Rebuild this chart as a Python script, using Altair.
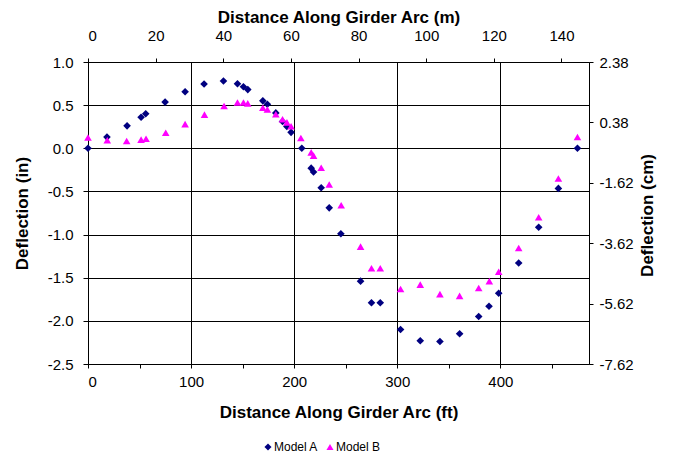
import altair as alt
import pandas as pd

# ---- data ----
a_x = [0, 18.4, 37.9, 51.5, 56, 74.8, 94.2, 112.6, 131.4, 145, 150.8, 155, 169.6, 174,
       182.2, 188.7, 192.9, 197, 207.4, 216.5, 218.8, 226.2, 234, 245.3, 264.4, 275,
       283.5, 303.2, 322.3, 341.4, 360.5, 379, 389, 398.4, 417.8, 437.2, 456.3, 474.8]
a_y = [0, 0.13, 0.26, 0.36, 0.40, 0.535, 0.655, 0.745, 0.78, 0.748, 0.713, 0.68, 0.55, 0.51,
       0.41, 0.31, 0.252, 0.185, 0.0, -0.23, -0.275, -0.457, -0.69, -0.99, -1.54, -1.79,
       -1.79, -2.10, -2.23, -2.24, -2.15, -1.95, -1.83, -1.68, -1.33, -0.915, -0.465, 0.0]
b_x = [0, 18.7, 37.5, 51.5, 56.3, 75.4, 94.2, 113, 132, 145, 150.8, 155, 169.6, 174,
       182.2, 188.7, 193, 197, 206.5, 216.5, 218.8, 226.2, 234, 245.6, 264.4, 275,
       283.5, 303.2, 322.3, 341.4, 360.5, 379, 389.3, 398.4, 417.8, 437.2, 456.3, 474.8]
b_y = [0.125, 0.093, 0.085, 0.10, 0.11, 0.18, 0.28, 0.39, 0.49, 0.53, 0.53, 0.52, 0.47, 0.45,
       0.395, 0.337, 0.30, 0.256, 0.12, -0.047, -0.085, -0.225, -0.42, -0.66, -1.14, -1.39,
       -1.39, -1.63, -1.58, -1.69, -1.71, -1.62, -1.54, -1.43, -1.155, -0.80, -0.35, 0.13]

series = ["Model A", "Model B"]
colors = ["#000080", "#FF00FF"]
shapes = ["diamond", "triangle-up"]

ft_max = 486.0
m_max = ft_max * 0.3048
in_domain = [-2.5, 1.0]
cm_domain = [-7.62, 2.38]
ft_ticks = [0, 50, 100, 150, 200, 250, 300, 350, 400, 450]
m_ticks = [0, 20, 40, 60, 80, 100, 120, 140]
in_ticks = [-2.5, -2.0, -1.5, -1.0, -0.5, 0.0, 0.5, 1.0]
cm_ticks = [2.38, 0.38, -1.62, -3.62, -5.62, -7.62]

df = pd.DataFrame({
    "x": a_x + b_x,
    "y": a_y + b_y,
    "series": [series[0]] * len(a_x) + [series[1]] * len(b_x),
})

FONT = "Liberation Sans"
W, H = 501, 302

axis_common = dict(
    labelFont=FONT, titleFont=FONT, labelFontSize=15, titleFontSize=17,
    titleFontWeight="bold", labelColor="black", titleColor="black",
    domainColor="black", tickColor="black", domainWidth=1, tickWidth=1,
)

points = alt.Chart(df).mark_point(filled=True, size=58, opacity=1).encode(
    x=alt.X("x:Q", scale=alt.Scale(domain=[0, ft_max], nice=False, zero=False),
            axis=alt.Axis(orient="bottom", values=ft_ticks,
                          title="Distance Along Girder Arc (ft)",
                          labelExpr="datum.value % 100 === 0 ? datum.label : ''",
                          grid=True, gridColor="black", gridWidth=1,
                          gridOpacity={"condition": {"test": "datum.value % 100 === 0", "value": 1}, "value": 0},
                          tickSize=4, labelPadding=6,
                          titleX=W / 2, titleY=53, titleBaseline="alphabetic",
                          **axis_common)),
    y=alt.Y("y:Q", scale=alt.Scale(domain=in_domain, nice=False, zero=False),
            axis=alt.Axis(orient="left", values=in_ticks, title="Deflection (in)",
                          labelExpr="(datum.value < 0 ? '-' : '') + format(abs(datum.value), '.1f')",
                          grid=True, gridColor="black", gridWidth=1,
                          tickSize=5, labelPadding=10,
                          titleX=-61, titleY=H / 2, titleAngle=270, titleBaseline="alphabetic",
                          **axis_common)),
    color=alt.Color("series:N", scale=alt.Scale(domain=series, range=colors),
                    legend=alt.Legend(title=None, orient="none", direction="horizontal",
                                      legendX=174, legendY=379, padding=0,
                                      labelFont=FONT, labelFontSize=12, labelColor="black",
                                      symbolSize=50, labelOffset=0, columnPadding=5)),
    shape=alt.Shape("series:N", scale=alt.Scale(domain=series, range=shapes), legend=None),
)

secondary = alt.Chart(df).transform_calculate(
    m="datum.x * 0.3048", cm="datum.y * 2.54"
).mark_point(opacity=0).encode(
    x=alt.X("m:Q", scale=alt.Scale(domain=[0, m_max], nice=False, zero=False),
            axis=alt.Axis(orient="top", values=m_ticks, title="Distance Along Girder Arc (m)",
                          grid=False, tickSize=4, labelPadding=15,
                          titleX=W / 2, titleY=-40, titleBaseline="alphabetic",
                          **axis_common)),
    y=alt.Y("cm:Q", scale=alt.Scale(domain=cm_domain, nice=False, zero=False),
            axis=alt.Axis(orient="right", values=cm_ticks, title="Deflection (cm)",
                          labelExpr="(datum.value < 0 ? '-' : '') + format(abs(datum.value), '.2f')",
                          grid=False, tickSize=4, labelPadding=6,
                          titleX=63, titleY=H / 2 + 2, titleAngle=270, titleBaseline="alphabetic",
                          **axis_common)),
)

chart = alt.layer(points, secondary).resolve_scale(
    x="independent", y="independent"
).properties(
    width=W, height=H,
    autosize=alt.AutoSizeParams(type="none"),
    padding={"left": 88, "top": 62, "right": 89, "bottom": 92},
    background="white",
).configure_view(stroke=None)

chart.save("out.html", embed_options={"renderer": "svg", "actions": False})
